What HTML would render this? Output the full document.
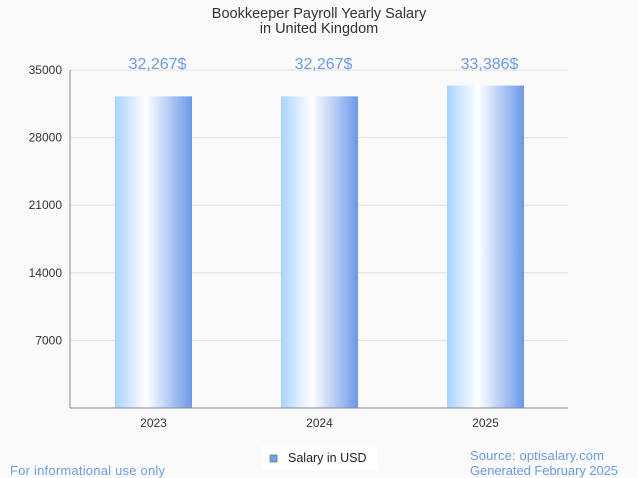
<!DOCTYPE html>
<html><head><meta charset="utf-8"><style>
body{margin:0;background:#fafafa;}
svg{display:block;font-family:"Liberation Sans",sans-serif;}
</style></head><body>
<svg id="c" width="638" height="478">
<defs><linearGradient id="g" x1="0" x2="1" y1="0" y2="0">
<stop offset="0" stop-color="#a9d3ff"/><stop offset="0.4" stop-color="#ffffff"/><stop offset="1" stop-color="#6b98ea"/>
</linearGradient></defs>
<rect width="638" height="478" fill="#fafafa"/>
<text x="319" y="18" text-anchor="middle" font-size="14.5" fill="#333">Bookkeeper Payroll Yearly Salary</text>
<text x="319" y="33" text-anchor="middle" font-size="14.5" fill="#333">in United Kingdom</text>
<g id="grid"></g><g id="bars"></g>
<line x1="70" y1="70" x2="70" y2="408" stroke="#888"/>
<line x1="70" y1="408" x2="568" y2="408" stroke="#888"/>
<rect x="262" y="446" width="115" height="24" fill="#fff"/>
<rect x="270" y="455" width="7" height="7" fill="#6aa6ee" stroke="#666" stroke-width="0.7"/>
<text x="288" y="462" font-size="12.5" fill="#222">Salary in USD</text>
<text x="10" y="475" font-size="13" fill="#6a9bea" textLength="155">For informational use only</text>
<text x="470" y="460" font-size="13" fill="#6a9bea" textLength="134">Source: optisalary.com</text>
<text x="470" y="475" font-size="13" fill="#6a9bea" textLength="148">Generated February 2025</text>
</svg>
<script>
const categories=["2023","2024","2025"];
const values=[32267,32267,33386];
const labels=["32,267$","32,267$","33,386$"];
const ticks=[7000,14000,21000,28000,35000];
const NS="http://www.w3.org/2000/svg";
const y=v=>408-v/35000*338;
const x=i=>153.5+i*166;
function mk(t,a,p){const e=document.createElementNS(NS,t);for(const k in a)e.setAttribute(k,a[k]);p.appendChild(e);return e;}
const grid=document.getElementById('grid'),bars=document.getElementById('bars');
ticks.forEach(t=>{
 const l=mk('line',{x1:70,x2:568,y1:y(t),y2:y(t),stroke:'#e0e0e0'},grid);
 
 
 const tx=mk('text',{x:62,y:y(t)+4,'text-anchor':'end','font-size':12,fill:'#333'},grid);
 tx.textContent=t;
 
 
});
categories.forEach((c,i)=>{
 const r=mk('rect',{x:x(i)-38.5,y:y(values[i]),width:77,height:408-y(values[i]),fill:'url(#g)'},bars);
 
 
 const v=mk('text',{x:x(i)+4,y:69,'text-anchor':'middle','font-size':16,fill:'#6a9bea'},bars);
 v.textContent=labels[i];
 
 
 const t=mk('text',{x:x(i),y:427,'text-anchor':'middle','font-size':12,fill:'#333'},bars);
 t.textContent=c;
 
 
});
</script>
</body></html>
